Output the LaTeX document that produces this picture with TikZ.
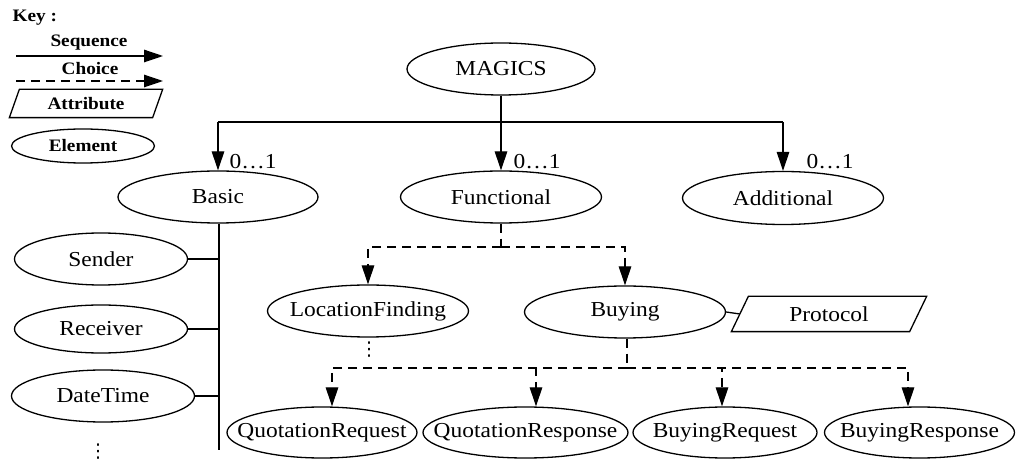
\documentclass[tikz,border=0pt]{standalone}
\usepackage{fontspec}
\setmainfont[FakeStretch=1.1]{Liberation Serif}
\newfontfamily\symfont{DejaVu Sans}
\usetikzlibrary{arrows.meta,shapes.geometric}
% centre a label without letting it size the shape around it
\newcommand\etext[1]{\makebox[0pt]{#1}}

\begin{document}
\begin{tikzpicture}[x=1pt,y=-1pt, line width=1.3pt,
  every node/.style={font=\fontsize{21.3}{25}\selectfont},
  elem/.style={ellipse, draw, inner sep=0pt, minimum height=52pt},
  attrbox/.style={rectangle, inner sep=0pt},
  keytext/.style={font=\fontsize{17.5}{20}\selectfont\bfseries},
  seq/.style={-{Triangle[length=19pt,width=12.5pt]}},
  choice/.style={seq, dash pattern=on 9pt off 6pt},
  card/.style={anchor=west, inner sep=0pt},
  dots/.style={inner sep=0pt, font=\symfont\fontsize{19}{21}\selectfont},
]
\useasboundingbox (0,0) rectangle (1018,462);

% ---- key ----
\node[keytext, anchor=west, inner sep=0pt] (keyhead) at (12,18) {Key :};
\node[keytext] (kseq) at (89,43) {Sequence};
\coordinate (kseqA) at (16,56);
\coordinate (kseqB) at (163,56);
\draw[seq] (kseqA) -- (kseqB);
\node[keytext] (kcho) at (90,69) {Choice};
\coordinate (kchoA) at (16,81);
\coordinate (kchoB) at (163,81);
\draw[choice] (kchoA) -- (kchoB);
\node[attrbox, minimum width=152pt, minimum height=27pt] (kattr) at (86,103.5)
      {\etext{\fontsize{17.5}{20}\selectfont\bfseries Attribute}};
\draw ([xshift=10pt]kattr.north west) -- (kattr.north east)
   -- ([xshift=-10pt]kattr.south east) -- (kattr.south west) -- cycle;
\node[elem, minimum width=143pt, minimum height=34pt] (kelem) at (83,146)
      {\etext{\fontsize{17.5}{20}\selectfont\bfseries Element}};

% ---- elements ----
\node[elem, minimum width=188pt] (magics) at (501,69) {\etext{MAGICS}};

\node[elem, minimum width=200pt] (basic) at (218,197) {\etext{Basic}};
\node[elem, minimum width=201pt] (fun)   at (501,197) {\etext{Functional}};
\node[elem, minimum width=201pt, minimum height=53pt] (add) at (783,198) {\etext{Additional}};

\node[elem, minimum width=173pt] (sender) at (101,259) {\etext{Sender}};
\node[elem, minimum width=173pt, minimum height=48pt] (recv) at (101,329) {\etext{Receiver}};
\node[elem, minimum width=183pt] (dt) at (103,396) {\etext{DateTime}};
\node[dots] (bdots) at (98,452) {⋮};

\node[elem, minimum width=201pt] (lf)  at (368,311) {\etext{LocationFinding}};
\node[dots] (lfdots) at (369,350) {⋮};
\node[elem, minimum width=201pt] (buy) at (625,312) {\etext{Buying}};
\node[attrbox, minimum width=194pt, minimum height=34pt] (proto) at (829,314) {\etext{Protocol}};
\draw ([xshift=17pt]proto.north west) -- (proto.north east)
   -- ([xshift=-17pt]proto.south east) -- (proto.south west) -- cycle;

\node[elem, minimum width=190pt, minimum height=51pt] (qreq) at (322,432.5) {\etext{QuotationRequest}};
\node[elem, minimum width=205pt, minimum height=51pt] (qres) at (525.5,432.5) {\etext{QuotationResponse}};
\node[elem, minimum width=184pt, minimum height=51pt] (breq) at (725,432.5) {\etext{BuyingRequest}};
\node[elem, minimum width=190pt, minimum height=51pt] (bres) at (919.5,432.5) {\etext{BuyingResponse}};

% ---- sequence from the root ----
\coordinate (bar) at (0,122);
\draw (basic.north |- bar) -- (add.north |- bar);
\draw[seq] (magics.south) -- (fun.north);
\draw[seq] (basic.north |- bar) -- (basic.north);
\draw[seq] (add.north |- bar) -- (add.north);
\node[card] (cb) at (229,162) {0…1};
\node[card] (cf) at (513,162) {0…1};
\node[card] (ca) at (806,162) {0…1};

% ---- members of Basic ----
\coordinate (spine) at (219,450);
\draw (basic.south -| spine) -- (spine);
\draw (sender.east) -- (sender.east -| spine);
\draw (recv.east) -- (recv.east -| spine);
\draw (dt.east) -- (dt.east -| spine);

% ---- choice under Functional ----
\coordinate (fchoice) at (0,247);
\draw[dash pattern=on 9pt off 6pt] (fun.south) -- (fun.south |- fchoice);
\draw[choice] (fun.south |- fchoice) -| (lf.north);
\draw[choice] (fun.south |- fchoice) -| (buy.north);

% ---- Buying attribute and its choice ----
\draw (buy.east) -- ([xshift=8.5pt]proto.west);
\coordinate (bchoice) at (0,368);
\draw[dash pattern=on 9pt off 6pt] ([xshift=2pt]buy.south) -- ([xshift=2pt]buy.south |- bchoice);
\draw[choice] ([xshift=2pt]buy.south |- bchoice) -| ([xshift=10pt]qreq.north);
\draw[choice] ([xshift=2pt]buy.south |- bchoice) -| ([xshift=10.5pt]qres.north);
\draw[choice] ([xshift=2pt]buy.south |- bchoice) -| ([xshift=-3pt]breq.north);
\draw[choice] ([xshift=2pt]buy.south |- bchoice) -| ([xshift=-11.5pt]bres.north);
\end{tikzpicture}
\end{document}
